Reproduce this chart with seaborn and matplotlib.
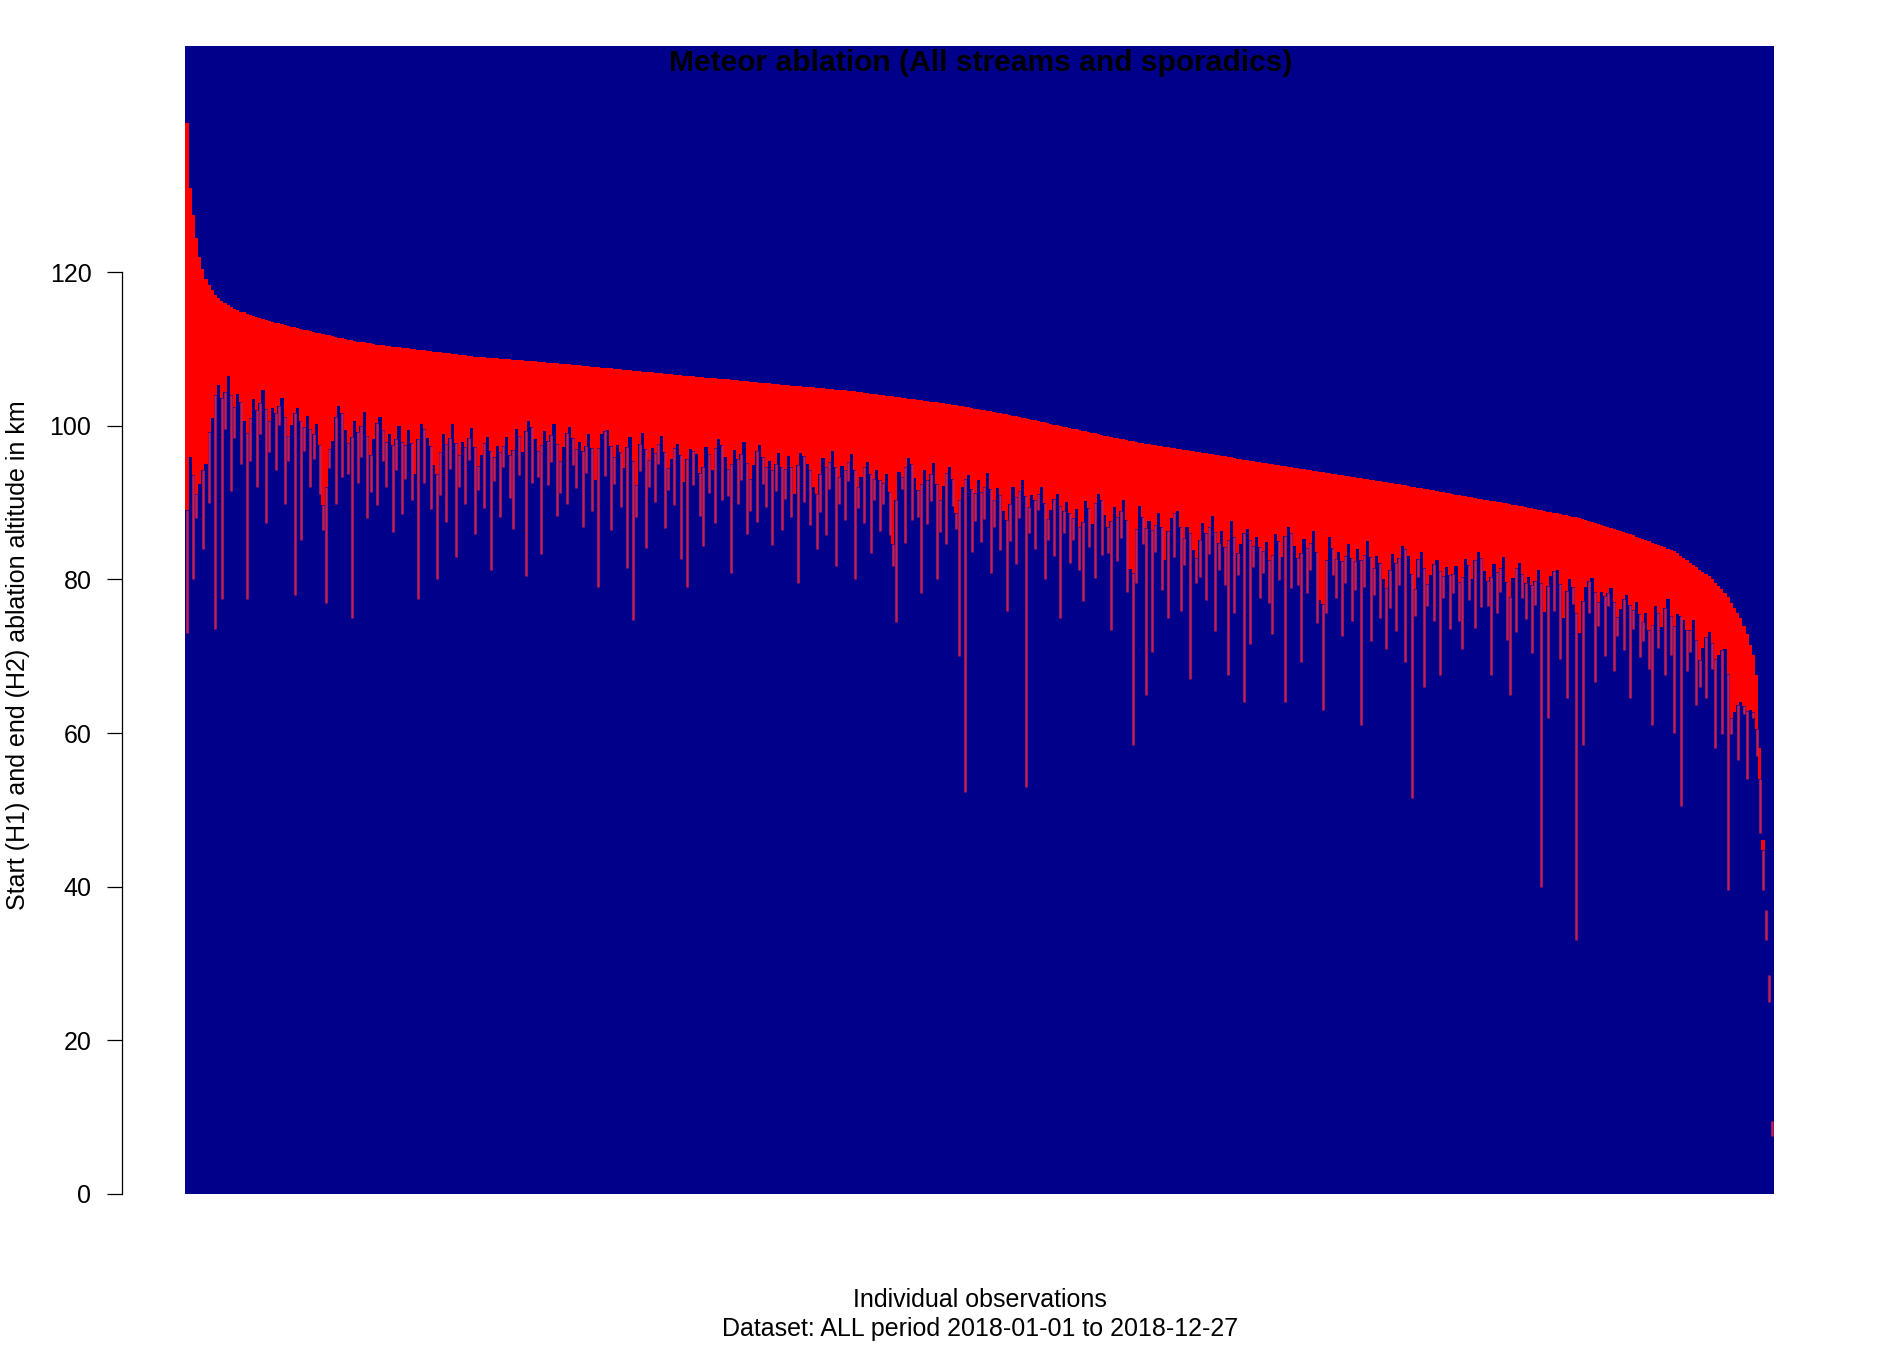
import matplotlib
matplotlib.use("Agg")
import matplotlib.pyplot as plt
import seaborn as sns
import numpy as np

# ---------------- data ----------------
# Start altitude H1 (km), observations sorted by decreasing H1
H1 = [
    139.5, 131.0, 127.5, 124.5, 122.0, 120.5, 119.2, 118.4, 117.7, 117.1,
    116.7, 116.3, 116.0, 115.7, 115.5, 115.2, 115.05, 114.9, 114.8, 114.65,
    114.5, 114.35, 114.2, 114.05, 113.9, 113.75, 113.65, 113.55, 113.45, 113.35,
    113.25, 113.15, 113.05, 112.95, 112.85, 112.75, 112.65, 112.55, 112.45, 112.35,
    112.25, 112.15, 112.05, 111.95, 111.9, 111.8, 111.7, 111.6, 111.5, 111.4,
    111.3, 111.25, 111.15, 111.1, 111.0, 110.95, 110.9, 110.8, 110.75, 110.7,
    110.6, 110.55, 110.5, 110.45, 110.4, 110.35, 110.3, 110.25, 110.2, 110.15,
    110.1, 110.05, 110.0, 109.95, 109.9, 109.85, 109.8, 109.75, 109.7, 109.65,
    109.6, 109.55, 109.5, 109.45, 109.4, 109.35, 109.3, 109.25, 109.2, 109.15,
    109.1, 109.05, 109.0, 108.97, 108.93, 108.9, 108.87, 108.84, 108.81, 108.78,
    108.75, 108.72, 108.68, 108.65, 108.62, 108.58, 108.55, 108.52, 108.48, 108.44,
    108.4, 108.37, 108.33, 108.3, 108.26, 108.23, 108.19, 108.16, 108.12, 108.09,
    108.05, 108.01, 107.97, 107.93, 107.89, 107.85, 107.81, 107.77, 107.73, 107.69,
    107.65, 107.61, 107.57, 107.53, 107.49, 107.45, 107.41, 107.37, 107.33, 107.29,
    107.25, 107.21, 107.17, 107.13, 107.09, 107.05, 107.01, 106.97, 106.93, 106.89,
    106.85, 106.81, 106.77, 106.73, 106.69, 106.65, 106.61, 106.57, 106.53, 106.49,
    106.45, 106.42, 106.38, 106.35, 106.31, 106.28, 106.24, 106.21, 106.17, 106.14,
    106.1, 106.06, 106.02, 105.98, 105.94, 105.9, 105.86, 105.82, 105.78, 105.74,
    105.7, 105.66, 105.62, 105.58, 105.54, 105.5, 105.46, 105.42, 105.38, 105.34,
    105.3, 105.26, 105.23, 105.19, 105.16, 105.12, 105.09, 105.05, 105.02, 104.98,
    104.95, 104.91, 104.87, 104.83, 104.79, 104.75, 104.71, 104.67, 104.63, 104.59,
    104.55, 104.5, 104.44, 104.39, 104.33, 104.28, 104.22, 104.17, 104.11, 104.06,
    104.0, 103.95, 103.89, 103.84, 103.78, 103.73, 103.67, 103.62, 103.56, 103.51,
    103.45, 103.4, 103.34, 103.29, 103.23, 103.18, 103.12, 103.07, 103.01, 102.96,
    102.9, 102.83, 102.76, 102.69, 102.62, 102.55, 102.48, 102.41, 102.34, 102.27,
    102.2, 102.12, 102.05, 101.97, 101.9, 101.82, 101.75, 101.67, 101.6, 101.52,
    101.45, 101.36, 101.27, 101.18, 101.09, 101.0, 100.91, 100.82, 100.73, 100.64,
    100.55, 100.46, 100.37, 100.28, 100.19, 100.1, 100.01, 99.92, 99.83, 99.74,
    99.65, 99.56, 99.47, 99.38, 99.29, 99.2, 99.11, 99.02, 98.93, 98.84,
    98.75, 98.66, 98.58, 98.49, 98.41, 98.32, 98.24, 98.15, 98.07, 97.98,
    97.9, 97.83, 97.76, 97.69, 97.62, 97.55, 97.48, 97.41, 97.34, 97.27,
    97.2, 97.13, 97.07, 97.0, 96.94, 96.87, 96.81, 96.74, 96.68, 96.61,
    96.55, 96.48, 96.42, 96.35, 96.29, 96.22, 96.16, 96.09, 96.03, 95.96,
    95.9, 95.83, 95.76, 95.69, 95.62, 95.55, 95.48, 95.41, 95.34, 95.27,
    95.2, 95.14, 95.07, 95.01, 94.94, 94.88, 94.81, 94.75, 94.68, 94.62,
    94.55, 94.49, 94.42, 94.36, 94.29, 94.23, 94.16, 94.1, 94.03, 93.97,
    93.9, 93.84, 93.77, 93.71, 93.64, 93.58, 93.51, 93.45, 93.38, 93.32,
    93.25, 93.19, 93.12, 93.06, 92.99, 92.93, 92.86, 92.8, 92.73, 92.67,
    92.6, 92.53, 92.46, 92.39, 92.32, 92.25, 92.18, 92.11, 92.04, 91.97,
    91.9, 91.83, 91.75, 91.68, 91.6, 91.53, 91.45, 91.38, 91.3, 91.23,
    91.15, 91.07, 91.0, 90.92, 90.85, 90.77, 90.7, 90.62, 90.55, 90.47,
    90.4, 90.33, 90.26, 90.19, 90.12, 90.05, 89.98, 89.91, 89.84, 89.77,
    89.7, 89.62, 89.53, 89.45, 89.36, 89.28, 89.19, 89.11, 89.02, 88.94,
    88.85, 88.77, 88.68, 88.6, 88.51, 88.43, 88.34, 88.26, 88.17, 88.09,
    88.0, 87.88, 87.76, 87.63, 87.51, 87.38, 87.26, 87.13, 87.01, 86.88,
    86.75, 86.6, 86.46, 86.31, 86.17, 86.03, 85.88, 85.74, 85.59, 85.45,
    85.3, 85.14, 84.98, 84.82, 84.66, 84.5, 84.34, 84.18, 84.02, 83.86,
    83.7, 83.4, 83.1, 82.8, 82.5, 82.2, 81.9, 81.6, 81.3, 81.0,
    80.7, 80.4, 80.0, 79.6, 79.2, 78.8, 78.3, 77.7, 77.0, 76.3,
    75.6, 75.0, 74.0, 72.9, 71.5, 70.2, 67.5, 58.0, 46.0, 37.0,
    28.5, 9.5,
]

# End altitude H2 (km), same order
H2 = [
    73.0, 96.0, 80.0, 88.0, 92.5, 84.0, 95.0, 90.0, 101.0, 73.5,
    105.3, 77.5, 99.6, 106.5, 91.5, 98.4, 104.2, 95.0, 100.7, 77.5,
    95.5, 103.5, 92.0, 98.9, 104.7, 87.4, 96.6, 102.4, 94.3, 100.1,
    103.6, 89.8, 95.5, 100.1, 78.0, 102.4, 85.2, 96.7, 101.3, 92.1,
    95.7, 100.3, 91.1, 86.5, 77.0, 94.5, 98.0, 89.9, 102.6, 93.4,
    99.5, 93.7, 75.0, 100.6, 92.6, 96.0, 101.8, 88.0, 91.4, 98.3,
    89.7, 101.2, 95.4, 92.0, 98.9, 86.2, 94.3, 100.0, 88.5, 93.1,
    99.5, 90.3, 93.8, 77.5, 100.2, 92.6, 98.4, 89.2, 94.9, 80.0,
    91.0, 99.0, 87.5, 94.4, 100.2, 82.9, 92.1, 97.9, 89.8, 95.6,
    99.7, 85.9, 91.6, 96.2, 89.3, 98.5, 81.3, 92.8, 97.4, 88.2,
    94.6, 98.6, 90.6, 86.6, 99.6, 93.6, 96.6, 80.5, 100.6, 92.6,
    98.3, 93.3, 83.3, 99.3, 92.3, 95.3, 100.3, 88.3, 91.3, 97.3,
    89.9, 99.9, 94.9, 91.9, 97.9, 86.9, 93.9, 98.9, 88.9, 92.9,
    79.0, 99.0, 93.5, 99.5, 86.5, 92.5, 97.5, 89.5, 94.5, 81.5,
    98.5, 74.7, 88.1, 94.1, 99.1, 84.1, 92.1, 97.1, 90.1, 95.1,
    98.7, 86.7, 91.7, 95.7, 89.7, 97.7, 82.7, 92.7, 79.0, 97.0,
    92.3, 96.3, 88.3, 84.3, 97.3, 91.3, 94.3, 87.3, 98.3, 90.3,
    95.9, 90.9, 80.9, 96.9, 89.9, 92.9, 97.9, 85.9, 88.9, 94.9,
    87.5, 97.5, 92.5, 89.5, 95.5, 84.5, 91.5, 96.5, 86.5, 90.5,
    96.1, 88.1, 91.1, 79.5, 96.5, 90.1, 95.1, 87.1, 92.1, 84.0,
    88.8, 95.8, 85.8, 91.8, 96.8, 81.8, 89.8, 94.8, 87.8, 92.8,
    96.3, 80.0, 89.3, 93.3, 87.3, 95.3, 83.5, 90.3, 94.3, 86.3,
    89.8, 93.8, 85.8, 81.8, 74.5, 94.0, 91.8, 84.8, 95.8, 87.8,
    93.2, 88.2, 78.2, 94.2, 87.2, 90.2, 95.2, 80.0, 86.2, 92.2,
    84.6, 94.6, 89.6, 86.6, 70.0, 92.0, 52.3, 93.6, 83.6, 87.6,
    92.9, 84.9, 87.9, 93.9, 80.9, 86.9, 91.9, 83.9, 88.9, 75.9,
    85.0, 92.0, 82.0, 88.0, 93.0, 53.0, 86.0, 91.0, 84.0, 89.0,
    92.1, 80.1, 85.1, 89.1, 83.1, 91.1, 75.0, 86.1, 90.1, 82.1,
    85.2, 89.2, 81.2, 77.2, 90.2, 84.2, 87.2, 80.2, 91.2, 83.2,
    88.4, 83.4, 73.4, 89.4, 82.4, 85.4, 90.4, 78.4, 81.4, 58.5,
    79.6, 89.6, 84.6, 65.0, 87.6, 70.5, 83.6, 88.6, 78.6, 82.6,
    75.0, 88.0, 82.9, 88.9, 75.9, 81.9, 86.9, 67.0, 83.9, 79.5,
    80.3, 87.3, 77.3, 83.3, 88.3, 73.3, 81.3, 86.3, 79.3, 67.5,
    87.6, 75.6, 80.6, 84.6, 64.0, 86.6, 71.6, 81.6, 85.6, 77.6,
    80.9, 84.9, 76.9, 72.9, 85.9, 79.9, 82.9, 64.0, 86.9, 78.9,
    84.3, 79.3, 69.3, 85.3, 78.3, 81.3, 86.3, 74.3, 77.3, 63.0,
    75.6, 85.6, 80.6, 77.6, 83.6, 72.6, 79.6, 84.6, 74.6, 78.6,
    84.0, 61.0, 79.0, 85.0, 72.0, 78.0, 83.0, 75.0, 80.0, 71.0,
    76.3, 83.3, 73.3, 79.3, 84.3, 69.3, 83.0, 51.5, 75.3, 80.3,
    83.6, 66.0, 76.6, 80.6, 74.6, 82.6, 67.6, 77.6, 81.6, 73.6,
    78.2, 81.8, 74.6, 71.0, 82.7, 77.3, 80.0, 73.7, 83.6, 76.4,
    81.1, 76.6, 67.6, 82.0, 75.7, 78.4, 82.9, 72.1, 65.0, 80.2,
    73.1, 82.1, 77.6, 74.9, 80.3, 70.4, 76.7, 81.2, 40.0, 75.8,
    62.0, 80.5, 75.9, 81.3, 69.6, 75.0, 64.5, 80.0, 76.8, 33.0,
    73.0, 58.5, 79.0, 75.7, 80.2, 66.7, 73.9, 78.4, 70.0, 76.6,
    78.9, 68.1, 72.6, 76.2, 70.8, 78.0, 64.5, 73.5, 77.1, 69.9,
    72.0, 75.6, 68.4, 61.0, 76.5, 71.1, 73.8, 67.5, 77.4, 70.2,
    60.0, 75.5, 50.5, 74.7, 68.1, 70.5, 74.7, 63.6, 66.0, 71.1,
    64.5, 73.2, 68.3, 58.0, 70.2, 59.9, 71.0, 39.5, 59.9, 62.8,
    56.5, 64.0, 62.5, 54.0, 63.0, 62.0, 57.0, 47.0, 39.5, 33.0,
    25.0, 7.5,
]

y_ticks = [0, 20, 40, 60, 80, 100, 120]
title = "Meteor ablation (All streams and sporadics)"
x_label_1 = "Individual observations"
x_label_2 = "Dataset: ALL period 2018-01-01 to 2018-12-27"
y_label = "Start (H1) and end (H2) ablation altitude in km"

NAVY = "#00008B"
RED = "#FF0000"
SPIKE = "#C41F52"   # thin isolated red bars blended with the navy background

# ---------------- figure ----------------
sns.set_theme(style="ticks")
plt.rcParams["font.family"] = ["Liberation Sans", "DejaVu Sans"]

W, H = 1900, 1347
fig = plt.figure(figsize=(W / 100, H / 100), dpi=100)
fig.patch.set_facecolor("white")

left, right, top, bottom = 185.4, 1774.0, 46.0, 1193.6
ax = fig.add_axes([left / W, 1 - bottom / H, (right - left) / W, (bottom - top) / H])
ax.set_facecolor(NAVY)

h1 = np.array(H1)
h2 = np.array(H2)
n = len(h1)
idx = np.arange(n)

# level down to which neighbouring bars overlap (the dense, solid red part)
prev_h2 = np.r_[h2[0], h2[:-1]]
next_h2 = np.r_[h2[1:], h2[-1]]
trio = np.vstack([prev_h2, h2, next_h2])
overlap = 0.7 * trio.max(axis=0) + 0.3 * np.median(trio, axis=0)
dense = np.minimum(np.maximum(h2, overlap), h1)

sns.barplot(x=idx, y=h1, color=RED, saturation=1, width=1.0, linewidth=0,
            errorbar=None, ax=ax, antialiased=False, zorder=1)
sns.barplot(x=idx, y=dense, color=NAVY, saturation=1, width=1.0, linewidth=0,
            errorbar=None, ax=ax, antialiased=False, zorder=2)
# the sparse lower part of every observation: a thin bar down to H2
ax.vlines(idx, h2, dense, colors=SPIKE, linewidth=1.8, zorder=3)

ax.set_xlim(-0.5, n - 0.5)
ax.set_ylim(0, 149.5)
ax.set_xticks([])
ax.set_xlabel("")
ax.set_ylabel("")
ax.set_yticks(y_ticks)
ax.set_yticklabels([str(t) for t in y_ticks])

for s in ["top", "right", "bottom"]:
    ax.spines[s].set_visible(False)
ax.spines["left"].set_position(("outward", 63 * 0.72))
ax.spines["left"].set_bounds(0, 120)
ax.spines["left"].set_color("black")
ax.spines["left"].set_linewidth(0.9)
ax.tick_params(axis="y", direction="out", length=15 * 0.72, width=0.9,
               color="black", labelsize=18, labelcolor="black", pad=16 * 0.72)

fig.text(981 / W, 1 - 63 / H, title, ha="center", va="center",
         fontsize=21.6, fontweight="bold", color="black", zorder=10)
fig.text(980 / W, 1 - 1300 / H, x_label_1, ha="center", va="center",
         fontsize=18, color="black")
fig.text(980 / W, 1 - 1329 / H, x_label_2, ha="center", va="center",
         fontsize=18, color="black")
fig.text(18 / W, 1 - 655 / H, y_label, ha="center", va="center",
         rotation=90, fontsize=18, color="black")

fig.savefig("out.png", dpi=100)
